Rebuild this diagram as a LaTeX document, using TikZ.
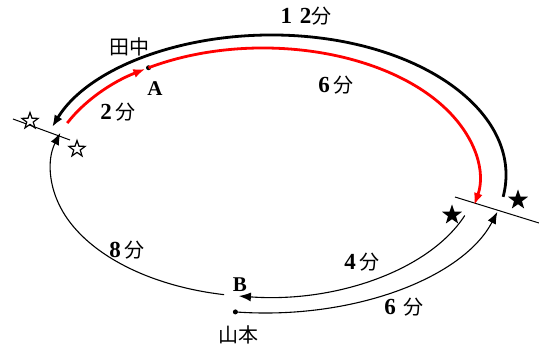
\documentclass[tikz,border=0pt]{standalone}
\usepackage{fontspec}
\newfontfamily\jp{Noto Sans CJK JP}
\newfontfamily\ser{Liberation Serif}
\usetikzlibrary{arrows.meta,shapes.geometric}
\tikzset{
  thick arc/.style={line width=2.8pt, -{Latex[length=12pt,width=9pt]}},
  blackarc/.style={thick arc, black},
  redarc/.style={thick arc, red},
  thinarc/.style={line width=1.1pt, black, -{Latex[length=12pt,width=9pt]}},
  tickline/.style={line width=1pt, black},
  lbl/.style={inner sep=0pt, font=\fontsize{23}{25}\selectfont\ser\bfseries},
  letter/.style={inner sep=0pt, font=\fontsize{21}{23}\selectfont\ser\bfseries},
  jlbl/.style={inner sep=0pt, font=\fontsize{20}{22}\selectfont\jp},
  starbase/.style={star, star points=5, star point ratio=2.5, inner sep=0pt},
  whitestar/.style={starbase, draw=black, fill=white, line width=1.2pt, minimum size=17pt},
  blackstar/.style={starbase, fill=black, minimum size=21pt},
  dotnode/.style={circle, fill=black, inner sep=0pt, minimum size=5pt},
}
\newcommand{\fen}{{\jp\mdseries\fontsize{20}{22}\selectfont 分}}
\begin{document}
\begin{tikzpicture}[x=1pt, y=-1pt]
\useasboundingbox (0,0) rectangle (539,344);
% centres of the three ellipses
\coordinate (cb) at (272,175);  % black outer
\coordinate (cr) at (263,178);  % red inner
\coordinate (ct) at (265,170);  % thin
% tick lines
\coordinate (lt1) at (13,119);
\coordinate (lt2) at (70,140);
\coordinate (rt1) at (455,197);
\coordinate (rt2) at (539,223);
\draw[tickline] (lt1) -- (lt2);
\draw[tickline] (rt1) -- (rt2);
% black 12 min arc
\coordinate (k0) at ([shift={(9:234 and 140)}]cb);
\draw[blackarc] (k0) arc[start angle=9, end angle=-160, x radius=234, y radius=140];
% red arcs
\coordinate (r0) at ([shift={(-155:216 and 130)}]cr);
\node[dotnode] (A) at ([shift={(-122:216 and 130)}]cr) {};
\draw[redarc] (r0) arc[start angle=-155, end angle=-123, x radius=216, y radius=130];
\draw[redarc] (A.center) arc[start angle=-122, end angle=12, x radius=216, y radius=130];
% thin 8 min arc
\coordinate (e0) at ([shift={(101:214 and 127)}]ct);
\draw[thinarc] (e0) arc[start angle=101, end angle=197, x radius=214, y radius=127];
% thin 4 min arc
\coordinate (f0) at ([shift={(21:214 and 127)}]ct);
\coordinate (B) at ([shift={(97:214 and 127)}]ct);
\draw[thinarc] (f0) arc[start angle=21, end angle=97, x radius=214, y radius=127];
% thin 6 min arc
\node[dotnode] (Y) at ([shift={(97:243 and 143)}]ct) {};
\draw[thinarc] (Y.center) arc[start angle=97, end angle=17, x radius=243, y radius=143];
% stars
\node[whitestar] (st1) at (30,121) {};
\node[whitestar] (st2) at (77,149) {};
\node[blackstar] (st3) at (452,215) {};
\node[blackstar] (st4) at (518,200) {};
% labels
\node[jlbl] (tanaka) at (129,47) {田中};
\node[letter] (la) at (155,89) {A};
\node[letter] (lb) at (240,285) {B};
\node[jlbl] (yamamoto) at (238,335) {山本};
\node[lbl] (t12) at (306,16) {1\,\,2\fen};
\node[lbl] (t6a) at (336,85) {6\,\fen};
\node[lbl] (t2) at (118,112) {2\,\fen};
\node[lbl] (t8) at (127,250) {8\,\fen};
\node[lbl] (t4) at (362,262) {4\,\fen};
\node[lbl] (t6b) at (404,307) {6\,\,\fen};
\end{tikzpicture}
\end{document}
